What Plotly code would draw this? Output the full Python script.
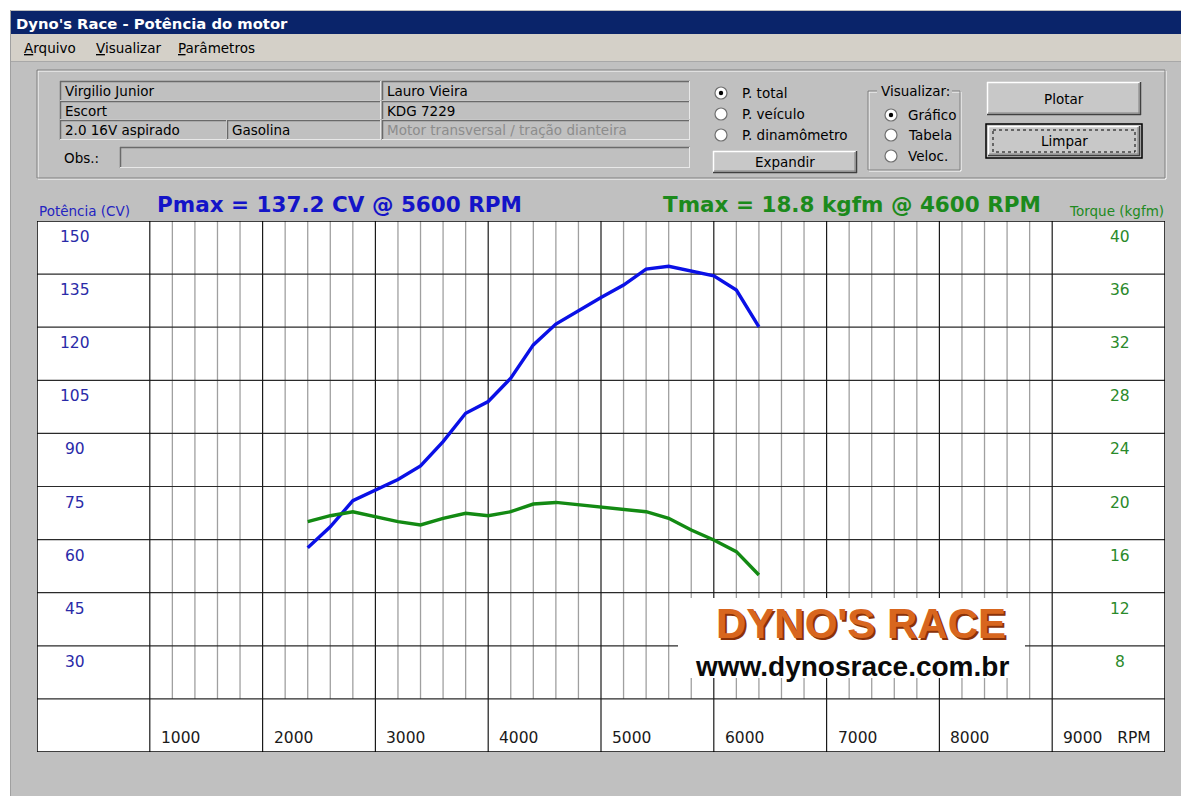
import plotly.graph_objects as go

# ---------------- data ----------------
rpm = [2400, 2600, 2800, 3000, 3200, 3400, 3600, 3800, 4000, 4200, 4400,
       4600, 4800, 5000, 5200, 5400, 5600, 5800, 6000, 6200, 6400]
power_cv = [57.7, 63.6, 71.0, 74.0, 77.0, 80.8, 87.7, 95.7, 99.0, 105.6, 115.0,
            120.9, 124.7, 128.4, 131.9, 136.4, 137.2, 135.9, 134.5, 130.5, 120.1]
torque_kgfm = [17.35, 17.80, 18.10, 17.73, 17.35, 17.10, 17.60, 17.98, 17.80, 18.10, 18.68,
               18.80, 18.61, 18.43, 18.23, 18.10, 17.60, 16.72, 15.97, 15.09, 13.33]

power_ticks = [150, 135, 120, 105, 90, 75, 60, 45, 30]
torque_ticks = [40, 36, 32, 28, 24, 20, 16, 12, 8]
rpm_ticks = [1000, 2000, 3000, 4000, 5000, 6000, 7000, 8000, 9000]
rpm_labels = ["1000", "2000", "3000", "4000", "5000", "6000", "7000", "8000",
              "9000&nbsp;&nbsp;&nbsp;RPM"]

W, H = 1181, 796
BG = "#C0C0C0"
UI_FONT = "DejaVu Sans"


def px(x):
    return x / W


def py(y):
    return 1 - y / H


shapes = []
annots = []


def rect(x0, y0, x1, y1, fill=None, line=None, lw=1, layer="below", dash=None):
    d = dict(type="rect", xref="paper", yref="paper",
             x0=px(x0), x1=px(x1), y0=py(y0), y1=py(y1), layer=layer,
             line=dict(width=lw if line else 0, color=line or "rgba(0,0,0,0)"))
    if dash:
        d["line"]["dash"] = dash
    if fill:
        d["fillcolor"] = fill
    shapes.append(d)


def hline(x0, x1, y, color, lw=1, layer="below"):
    shapes.append(dict(type="line", xref="paper", yref="paper", x0=px(x0), x1=px(x1),
                       y0=py(y), y1=py(y), line=dict(color=color, width=lw), layer=layer))


def vline(x, y0, y1, color, lw=1, layer="below"):
    shapes.append(dict(type="line", xref="paper", yref="paper", x0=px(x), x1=px(x),
                       y0=py(y0), y1=py(y1), line=dict(color=color, width=lw), layer=layer))


def text(x, y, s, size=14, color="black", xanchor="left", family=UI_FONT, bold=False, **kw):
    annots.append(dict(xref="paper", yref="paper", x=px(x), y=py(y), text=s, showarrow=False,
                       xanchor=xanchor, yanchor="middle",
                       font=dict(family=family, size=size, color=color,
                                 weight="bold" if bold else "normal"), **kw))


def sunken(x0, y0, x1, y1, fill=BG):
    rect(x0, y0, x1, y1, fill=fill)
    hline(x0, x1, y0 + 0.5, "#6A6A6A", 1.5)
    vline(x0 + 0.5, y0, y1, "#6A6A6A", 1.5)
    hline(x0, x1, y1 - 0.5, "#E8E8E8", 1)
    vline(x1 - 0.5, y0, y1, "#E8E8E8", 1)


def raised(x0, y0, x1, y1, fill="#C8C8C8"):
    rect(x0, y0, x1, y1, fill=fill)
    hline(x0, x1, y0 + 0.5, "#FFFFFF", 1.5)
    vline(x0 + 0.5, y0, y1, "#FFFFFF", 1.5)
    hline(x0, x1, y1 - 0.5, "#404040", 1.5)
    vline(x1 - 0.5, y0, y1, "#404040", 1.5)
    hline(x0 + 1, x1 - 1, y1 - 2, "#808080", 1)
    vline(x1 - 2, y0 + 1, y1 - 1, "#808080", 1)


def etched(x0, y0, x1, y1):
    rect(x0 + 1, y0 + 1, x1 + 1, y1 + 1, line="#FFFFFF", lw=1)
    rect(x0, y0, x1, y1, line="#808080", lw=1)


def radio(cx, cy, selected):
    r = 6
    shapes.append(dict(type="circle", xref="paper", yref="paper",
                       x0=px(cx - r), x1=px(cx + r), y0=py(cy + r), y1=py(cy - r),
                       fillcolor="#FFFFFF", line=dict(color="#707070", width=1.2), layer="below"))
    if selected:
        r2 = 2.2
        shapes.append(dict(type="circle", xref="paper", yref="paper",
                           x0=px(cx - r2), x1=px(cx + r2), y0=py(cy + r2), y1=py(cy - r2),
                           fillcolor="#000000", line=dict(color="#000000", width=0), layer="below"))


# ---------------- window chrome ----------------
rect(0, 0, W, 10, fill="#FFFFFF")
rect(0, 0, 10, H, fill="#FFFFFF")
vline(10.5, 10, H, "#A0A0A0", 1)
rect(11, 11, W, 34, fill="#0A246A")
text(14, 23, "Dyno's Race - Potência do motor", size=14.8, color="#FFFFFF", bold=True)
rect(11, 34, W, 61, fill="#D4D0C8")
hline(11, W, 61.5, "#A8A8A8", 1)
text(22, 48, "<u>A</u>rquivo", size=13.5)
text(94, 48, "<u>V</u>isualizar", size=13.5)
text(176, 48, "<u>P</u>arâmetros", size=13.5)

# group panel
etched(37, 70, 1165, 178)

# text fields
sunken(60, 81, 381, 101)
sunken(60, 101, 381, 120)
sunken(60, 120, 227, 140)
sunken(227, 120, 381, 140)
sunken(382, 81, 690, 101)
sunken(382, 101, 690, 120)
sunken(382, 120, 690, 140)
sunken(120, 147, 690, 168)
text(63, 91, "Virgilio Junior", size=13.5)
text(63, 111, "Escort", size=13.5)
text(63, 130, "2.0 16V aspirado", size=13.5)
text(230, 130, "Gasolina", size=13.5)
text(385, 91, "Lauro Vieira", size=13.5)
text(385, 111, "KDG 7229", size=13.5)
text(385, 130, "Motor transversal / tração dianteira", size=13.5, color="#8C8C8C")
text(62, 158, "Obs.:", size=13.5)

# radios
radio(721, 93, True)
radio(721, 114, False)
radio(721, 135, False)
text(740, 93, "P. total", size=13.5)
text(740, 114, "P. veículo", size=13.5)
text(740, 135, "P. dinamômetro", size=13.5)
raised(713, 151, 857, 173)
text(785, 162, "Expandir", size=13.5, xanchor="center")

etched(868, 91, 960, 170)
rect(877, 84, 952, 98, fill=BG)
text(879, 91, "Visualizar:", size=13.5)
radio(891, 115, True)
radio(891, 135, False)
radio(891, 156, False)
text(906, 115, "Gráfico", size=13.5)
text(906, 135, "Tabela", size=13.5)
text(906, 156, "Veloc.", size=13.5)

raised(987, 82, 1141, 115)
text(1064, 99, "Plotar", size=13.5, xanchor="center")
rect(986, 124, 1142, 158, line="#000000", lw=1.5)
raised(988, 126, 1140, 156)
rect(993, 130, 1135, 152, line="#000000", lw=1, dash="dot")
text(1064, 141, "Limpar", size=13.5, xanchor="center")

# chart header
text(37, 211, "Potência (CV)", size=13.5, color="#2424C0")
text(155, 205, "Pmax = 137.2 CV @ 5600 RPM", size=21.5, color="#1414C8", bold=True)
text(1043, 205, "Tmax = 18.8 kgfm @ 4600 RPM", size=21.5, color="#1C8A1C", bold=True,
     xanchor="right")
text(1166, 211, "Torque (kgfm)", size=13.5, color="#208A20", xanchor="right")

# ---------------- chart grid (data coordinates) ----------------
XMAX, YMAX, Y2MAX = 10000, 150, 40
grid = []
# minor vertical lines every 200 rpm (not in the outer columns / bottom row)
for v in range(1000, 9000, 200):
    if v % 1000:
        grid.append(dict(type="line", xref="x", yref="y", x0=v, x1=v, y0=15, y1=YMAX,
                         line=dict(color="#A0A0A0", width=1.3), layer="below"))
# horizontal lines
for v in range(15, YMAX, 15):
    grid.append(dict(type="line", xref="x", yref="y", x0=0, x1=XMAX, y0=v, y1=v,
                     line=dict(color="#2A2A2A", width=1.2), layer="below"))
# major vertical lines
for v in rpm_ticks:
    grid.append(dict(type="line", xref="x", yref="y", x0=v, x1=v, y0=0, y1=YMAX,
                     line=dict(color="#1A1A1A", width=1.2), layer="below"))
grid.append(dict(type="rect", xref="x", yref="y", x0=0, x1=XMAX, y0=0, y1=YMAX,
                 line=dict(color="#000000", width=1.5), layer="below"))

# logo box (covers the grid)
rect(678, 598, 1025, 678, fill="#FFFFFF", layer="above")

# tick labels
for v in power_ticks:
    annots.append(dict(xref="x", yref="y", x=340, y=v, yshift=-5, text=str(v), showarrow=False,
                       xanchor="center", yanchor="top",
                       font=dict(family=UI_FONT, size=15.5, color="#2A2AA8")))
for v in torque_ticks:
    annots.append(dict(xref="x", yref="y2", x=9600, y=v, yshift=-5, text=str(v), showarrow=False,
                       xanchor="center", yanchor="top",
                       font=dict(family=UI_FONT, size=15.5, color="#2A8A2A")))
for v, lab in zip(rpm_ticks, rpm_labels):
    annots.append(dict(xref="x", yref="y", x=v, y=0, xshift=9, yshift=3, text=lab,
                       showarrow=False, xanchor="left", yanchor="bottom",
                       font=dict(family=UI_FONT, size=15.5, color="#1A1A1A")))

# logo texts
annots.append(dict(xref="paper", yref="paper", x=px(861), y=py(623), text="DYNO'S RACE",
                   showarrow=False, xanchor="center", yanchor="middle",
                   font=dict(family="Liberation Sans", size=42, color="#D8661E", weight="bold",
                             shadow="2px 2px 0px #8A3208")))
annots.append(dict(xref="paper", yref="paper", x=px(852), y=py(666), text="www.dynosrace.com.br",
                   showarrow=False, xanchor="center", yanchor="middle",
                   font=dict(family="Liberation Sans", size=28, color="#0A0A0A", weight="bold")))

# ---------------- figure ----------------
fig = go.Figure()
fig.add_trace(go.Scatter(x=rpm, y=power_cv, mode="lines", name="Potência (CV)",
                         line=dict(color="#0A10E6", width=3.4), yaxis="y"))
fig.add_trace(go.Scatter(x=rpm, y=torque_kgfm, mode="lines", name="Torque (kgfm)",
                         line=dict(color="#138A13", width=3.4), yaxis="y2"))

fig.update_layout(
    width=W, height=H, autosize=False,
    margin=dict(l=0, r=0, t=0, b=0, pad=0),
    paper_bgcolor=BG, plot_bgcolor="#FFFFFF",
    showlegend=False,
    xaxis=dict(range=[0, XMAX], domain=[px(37), px(1165)], visible=False, fixedrange=True),
    yaxis=dict(range=[0, YMAX], domain=[py(752), py(221)], visible=False, fixedrange=True),
    yaxis2=dict(range=[0, Y2MAX], overlaying="y", side="right", visible=False, fixedrange=True),
    shapes=shapes + grid,
    annotations=annots,
    hovermode=False,
)

fig.write_html("out.html", config={"displayModeBar": False},
               post_script="document.body.style.margin='0px';document.body.style.overflow='hidden';")
